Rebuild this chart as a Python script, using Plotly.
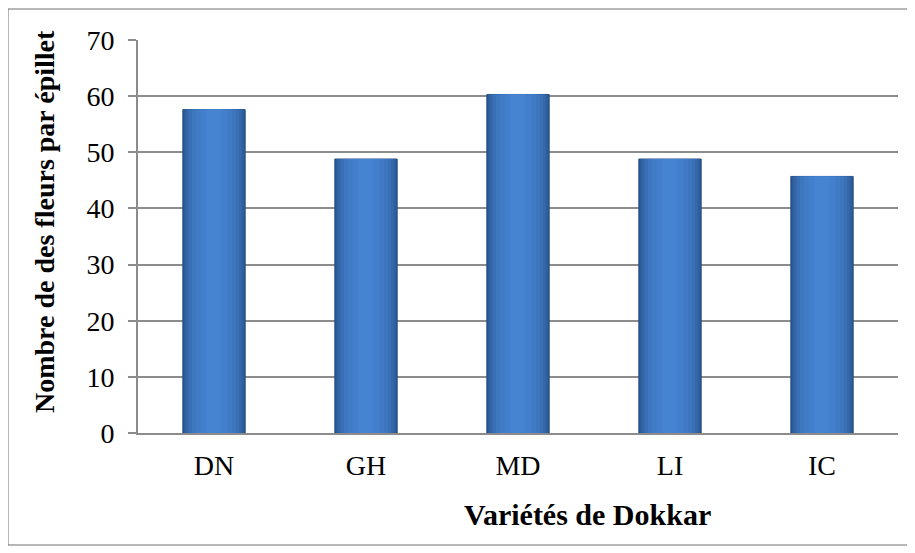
import plotly.graph_objects as go

categories = ["DN", "GH", "MD", "LI", "IC"]
values = [57.6, 48.8, 60.3, 48.8, 45.7]
y_ticks = [0, 10, 20, 30, 40, 50, 60, 70]

x_title = "Variétés de Dokkar"
y_title = "Nombre de des fleurs par épillet"

font_family = "Liberation Serif, Times New Roman, serif"

# page geometry of the plot area (the page adds an 8px body margin)
PL, PR, PT, PB = 138, 898, 40, 433
PW, PH = PR - PL, PB - PT

fig = go.Figure()
# layered bars of decreasing width imitate the horizontal gradient fill
layers = [
    (0.41, "#2b5894"),
    (0.39, "#30619f"),
    (0.36, "#3569aa"),
    (0.33, "#3a70b5"),
    (0.29, "#3d76be"),
    (0.24, "#407bc6"),
    (0.18, "#437fcc"),
    (0.10, "#4683d1"),
]
for i, (w, col) in enumerate(layers):
    fig.add_trace(go.Bar(
        x=categories, y=values, width=w,
        marker=dict(color=col,
                    line=dict(color="#244d85" if i == 0 else col, width=1 if i == 0 else 0)),
        hoverinfo="skip" if i else None, showlegend=False,
    ))

fig.update_layout(
    width=915, height=553,
    margin=dict(l=PL - 8, r=915 - (PR - 8), t=PT - 8, b=553 - (PB - 8)),
    barmode="overlay",
    plot_bgcolor="white", paper_bgcolor="white",
    font=dict(family=font_family, size=28, color="black"),
    xaxis=dict(
        showline=True, linecolor="#8c8c8c", linewidth=2,
        ticks="", tickfont=dict(size=28), ticklabelstandoff=6,
    ),
    yaxis=dict(
        range=[0, 70], tickvals=y_ticks,
        showline=True, linecolor="#8c8c8c", linewidth=2,
        showgrid=True, gridcolor="#8c8c8c", gridwidth=1.5,
        ticks="outside", ticklen=8, tickcolor="#8c8c8c", tickwidth=1.5,
        tickfont=dict(size=28), ticklabelstandoff=8,
        zeroline=False,
    ),
    annotations=[
        dict(text="<b>" + x_title + "</b>", xref="paper", yref="paper",
             x=(587 - PL) / PW, y=(PB - 514) / PH,
             xanchor="center", yanchor="middle", showarrow=False,
             font=dict(size=30)),
        dict(text="<b>" + y_title + "</b>", xref="paper", yref="paper",
             x=(44 - PL) / PW, y=(PB - 222) / PH, textangle=-90,
             xanchor="center", yanchor="middle", showarrow=False,
             font=dict(size=28)),
    ],
    shapes=[dict(type="rect", xref="paper", yref="paper",
                 x0=(8 - PL) / PW, x1=(909 - PL) / PW,
                 y0=(PB - 545) / PH, y1=(PB - 9) / PH,
                 line=dict(color="#6e6e6e", width=1))],
)

fig.write_html("out.html")
